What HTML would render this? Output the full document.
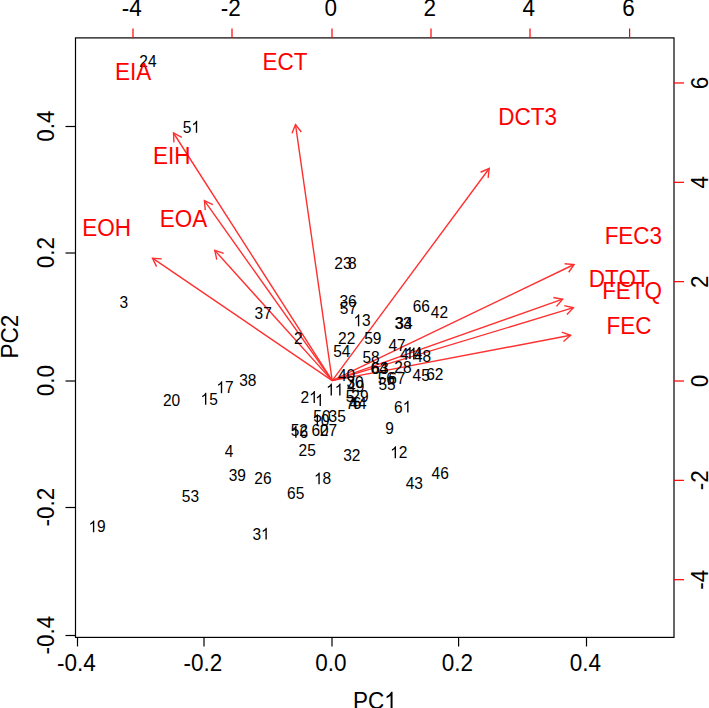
<!DOCTYPE html>
<html><head><meta charset="utf-8"><style>
html,body{margin:0;padding:0;background:#fff;overflow:hidden}
svg{display:block;font-family:"Liberation Sans",sans-serif}
</style></head><body>
<svg width="709" height="708" viewBox="0 0 709 708">
<rect x="75.5" y="37.9" width="598.5" height="599.5" fill="none" stroke="#000" stroke-width="1.2"/>
<g stroke="#000" stroke-width="1.2"><line x1="77.5" y1="637.4" x2="77.5" y2="646.4"/><line x1="204.0" y1="637.4" x2="204.0" y2="646.4"/><line x1="332.0" y1="637.4" x2="332.0" y2="646.4"/><line x1="458.6" y1="637.4" x2="458.6" y2="646.4"/><line x1="586.5" y1="637.4" x2="586.5" y2="646.4"/><line x1="75.5" y1="126.5" x2="65.5" y2="126.5"/><line x1="75.5" y1="253.0" x2="65.5" y2="253.0"/><line x1="75.5" y1="381.0" x2="65.5" y2="381.0"/><line x1="75.5" y1="507.5" x2="65.5" y2="507.5"/><line x1="75.5" y1="635.5" x2="65.5" y2="635.5"/></g>
<g stroke="#f00" stroke-width="1.2"><line x1="133.00" y1="37.9" x2="133.00" y2="28.4"/><line x1="232.00" y1="37.9" x2="232.00" y2="28.4"/><line x1="332.00" y1="37.9" x2="332.00" y2="28.4"/><line x1="431.00" y1="37.9" x2="431.00" y2="28.4"/><line x1="530.00" y1="37.9" x2="530.00" y2="28.4"/><line x1="629.60" y1="37.9" x2="629.60" y2="28.4"/><line x1="674.0" y1="579.68" x2="684" y2="579.68"/><line x1="674.0" y1="480.34" x2="684" y2="480.34"/><line x1="674.0" y1="381.00" x2="684" y2="381.00"/><line x1="674.0" y1="281.66" x2="684" y2="281.66"/><line x1="674.0" y1="182.32" x2="684" y2="182.32"/><line x1="674.0" y1="82.98" x2="684" y2="82.98"/></g>
<g font-size="22.5" text-anchor="middle" fill="#000"><text transform="translate(76.30,670.8) scale(1,1.06)">-0.4</text><text transform="translate(202.80,670.8) scale(1,1.06)">-0.2</text><text transform="translate(330.80,670.8) scale(1,1.06)">0.0</text><text transform="translate(457.40,670.8) scale(1,1.06)">0.2</text><text transform="translate(585.30,670.8) scale(1,1.06)">0.4</text><text transform="translate(131.80,15.5) scale(1,1.06)">-4</text><text transform="translate(230.80,15.5) scale(1,1.06)">-2</text><text transform="translate(330.80,15.5) scale(1,1.06)">0</text><text transform="translate(429.80,15.5) scale(1,1.06)">2</text><text transform="translate(528.80,15.5) scale(1,1.06)">4</text><text transform="translate(628.40,15.5) scale(1,1.06)">6</text><text transform="translate(53.6,126.0) rotate(-90) scale(1,1.06)">0.4</text><text transform="translate(53.6,252.5) rotate(-90) scale(1,1.06)">0.2</text><text transform="translate(53.6,380.5) rotate(-90) scale(1,1.06)">0.0</text><text transform="translate(53.6,507.0) rotate(-90) scale(1,1.06)">-0.2</text><text transform="translate(53.6,635.0) rotate(-90) scale(1,1.06)">-0.4</text><text transform="translate(708.3,579.68) rotate(-90) scale(1,1.06)">-4</text><text transform="translate(708.3,480.34) rotate(-90) scale(1,1.06)">-2</text><text transform="translate(708.3,381.00) rotate(-90) scale(1,1.06)">0</text><text transform="translate(708.3,281.66) rotate(-90) scale(1,1.06)">2</text><text transform="translate(708.3,182.32) rotate(-90) scale(1,1.06)">4</text><text transform="translate(708.3,82.98) rotate(-90) scale(1,1.06)">6</text><text transform="translate(374.8,709.0) scale(1,1.06)">PC </text><text transform="translate(18.2,336.6) rotate(-90) scale(1,1.06)">PC2</text></g><path transform="translate(384.17,709.00) scale(0.01099,-0.01165)" d="M763 0L583 0L583 1147C540 1106 483 1064 413 1023C343 982 280 951 223 930L223 1104C323 1151 411 1208 486 1276C561 1344 614 1409 645 1472L763 1472Z" fill="#000"/>
<g stroke="#ff3030" stroke-width="1.4" fill="none"><line x1="332.2" y1="380.6" x2="173.50" y2="133.00"/><polyline points="173.94,142.39 173.50,133.00 181.85,137.32"/><line x1="332.2" y1="380.6" x2="295.50" y2="124.60"/><polyline points="292.00,133.33 295.50,124.60 301.31,131.99"/><line x1="332.2" y1="380.6" x2="489.20" y2="168.50"/><polyline points="480.58,172.25 489.20,168.50 488.13,177.84"/><line x1="332.2" y1="380.6" x2="204.40" y2="200.70"/><polyline points="205.28,210.06 204.40,200.70 212.95,204.61"/><line x1="332.2" y1="380.6" x2="214.80" y2="250.40"/><polyline points="216.76,259.59 214.80,250.40 223.74,253.30"/><line x1="332.2" y1="380.6" x2="152.50" y2="258.20"/><polyline points="156.58,266.67 152.50,258.20 161.87,258.90"/><line x1="332.2" y1="380.6" x2="574.00" y2="264.50"/><polyline points="564.63,263.79 574.00,264.50 568.70,272.26"/><line x1="332.2" y1="380.6" x2="562.60" y2="299.20"/><polyline points="553.36,297.48 562.60,299.20 556.49,306.34"/><line x1="332.2" y1="380.6" x2="573.40" y2="307.70"/><polyline points="564.25,305.56 573.40,307.70 566.97,314.55"/><line x1="332.2" y1="380.6" x2="570.60" y2="335.30"/><polyline points="561.73,332.20 570.60,335.30 563.48,341.44"/></g>
<g text-anchor="middle"><text transform="translate(147.94,67.49) scale(1,1.07)" fill="#000" font-size="15.5">24</text><text transform="translate(191.41,132.76) scale(1,1.07)" fill="#000" font-size="15.5">5 </text><path transform="translate(191.41,132.76) scale(0.00757,-0.00810)" d="M763 0L583 0L583 1147C540 1106 483 1064 413 1023C343 982 280 951 223 930L223 1104C323 1151 411 1208 486 1276C561 1344 614 1409 645 1472L763 1472Z" fill="#000"/><text transform="translate(123.85,308.01) scale(1,1.07)" fill="#000" font-size="15.5">3</text><text transform="translate(97.12,532.36) scale(1,1.07)" fill="#000" font-size="15.5"> 9</text><path transform="translate(88.50,532.36) scale(0.00757,-0.00810)" d="M763 0L583 0L583 1147C540 1106 483 1064 413 1023C343 982 280 951 223 930L223 1104C323 1151 411 1208 486 1276C561 1344 614 1409 645 1472L763 1472Z" fill="#000"/><text transform="translate(171.61,405.91) scale(1,1.07)" fill="#000" font-size="15.5">20</text><text transform="translate(209.18,404.76) scale(1,1.07)" fill="#000" font-size="15.5"> 5</text><path transform="translate(200.56,404.76) scale(0.00757,-0.00810)" d="M763 0L583 0L583 1147C540 1106 483 1064 413 1023C343 982 280 951 223 930L223 1104C323 1151 411 1208 486 1276C561 1344 614 1409 645 1472L763 1472Z" fill="#000"/><text transform="translate(225.05,393.24) scale(1,1.07)" fill="#000" font-size="15.5"> 7</text><path transform="translate(216.42,393.24) scale(0.00757,-0.00810)" d="M763 0L583 0L583 1147C540 1106 483 1064 413 1023C343 982 280 951 223 930L223 1104C323 1151 411 1208 486 1276C561 1344 614 1409 645 1472L763 1472Z" fill="#000"/><text transform="translate(247.84,385.81) scale(1,1.07)" fill="#000" font-size="15.5">38</text><text transform="translate(229.15,456.81) scale(1,1.07)" fill="#000" font-size="15.5">4</text><text transform="translate(237.37,480.51) scale(1,1.07)" fill="#000" font-size="15.5">39</text><text transform="translate(262.95,484.21) scale(1,1.07)" fill="#000" font-size="15.5">26</text><text transform="translate(190.43,501.71) scale(1,1.07)" fill="#000" font-size="15.5">53</text><text transform="translate(307.14,455.91) scale(1,1.07)" fill="#000" font-size="15.5">25</text><text transform="translate(322.59,484.36) scale(1,1.07)" fill="#000" font-size="15.5"> 8</text><path transform="translate(313.97,484.36) scale(0.00757,-0.00810)" d="M763 0L583 0L583 1147C540 1106 483 1064 413 1023C343 982 280 951 223 930L223 1104C323 1151 411 1208 486 1276C561 1344 614 1409 645 1472L763 1472Z" fill="#000"/><text transform="translate(295.63,499.01) scale(1,1.07)" fill="#000" font-size="15.5">65</text><text transform="translate(261.02,539.56) scale(1,1.07)" fill="#000" font-size="15.5">3 </text><path transform="translate(261.02,539.56) scale(0.00757,-0.00810)" d="M763 0L583 0L583 1147C540 1106 483 1064 413 1023C343 982 280 951 223 930L223 1104C323 1151 411 1208 486 1276C561 1344 614 1409 645 1472L763 1472Z" fill="#000"/><text transform="translate(402.73,412.56) scale(1,1.07)" fill="#000" font-size="15.5">6 </text><path transform="translate(402.73,412.56) scale(0.00757,-0.00810)" d="M763 0L583 0L583 1147C540 1106 483 1064 413 1023C343 982 280 951 223 930L223 1104C323 1151 411 1208 486 1276C561 1344 614 1409 645 1472L763 1472Z" fill="#000"/><text transform="translate(389.60,434.41) scale(1,1.07)" fill="#000" font-size="15.5">9</text><text transform="translate(398.85,458.24) scale(1,1.07)" fill="#000" font-size="15.5"> 2</text><path transform="translate(390.22,458.24) scale(0.00757,-0.00810)" d="M763 0L583 0L583 1147C540 1106 483 1064 413 1023C343 982 280 951 223 930L223 1104C323 1151 411 1208 486 1276C561 1344 614 1409 645 1472L763 1472Z" fill="#000"/><text transform="translate(351.79,460.51) scale(1,1.07)" fill="#000" font-size="15.5">32</text><text transform="translate(440.16,478.91) scale(1,1.07)" fill="#000" font-size="15.5">46</text><text transform="translate(414.36,489.41) scale(1,1.07)" fill="#000" font-size="15.5">43</text><text transform="translate(263.19,319.21) scale(1,1.07)" fill="#000" font-size="15.5">37</text><text transform="translate(298.20,344.19) scale(1,1.07)" fill="#000" font-size="15.5">2</text><text transform="translate(342.95,269.01) scale(1,1.07)" fill="#000" font-size="15.5">23</text><text transform="translate(352.30,269.01) scale(1,1.07)" fill="#000" font-size="15.5">8</text><text transform="translate(348.05,307.41) scale(1,1.07)" fill="#000" font-size="15.5">36</text><text transform="translate(348.48,313.82) scale(1,1.07)" fill="#000" font-size="15.5">57</text><text transform="translate(362.10,326.16) scale(1,1.07)" fill="#000" font-size="15.5"> 3</text><path transform="translate(353.48,326.16) scale(0.00757,-0.00810)" d="M763 0L583 0L583 1147C540 1106 483 1064 413 1023C343 982 280 951 223 930L223 1104C323 1151 411 1208 486 1276C561 1344 614 1409 645 1472L763 1472Z" fill="#000"/><text transform="translate(346.70,343.99) scale(1,1.07)" fill="#000" font-size="15.5">22</text><text transform="translate(372.86,344.11) scale(1,1.07)" fill="#000" font-size="15.5">59</text><text transform="translate(341.82,356.72) scale(1,1.07)" fill="#000" font-size="15.5">54</text><text transform="translate(371.03,362.51) scale(1,1.07)" fill="#000" font-size="15.5">58</text><text transform="translate(421.35,311.61) scale(1,1.07)" fill="#000" font-size="15.5">66</text><text transform="translate(439.41,318.39) scale(1,1.07)" fill="#000" font-size="15.5">42</text><text transform="translate(403.93,328.71) scale(1,1.07)" fill="#000" font-size="15.5">34</text><text transform="translate(403.05,328.71) scale(1,1.07)" fill="#000" font-size="15.5">33</text><text transform="translate(397.01,350.71) scale(1,1.07)" fill="#000" font-size="15.5">47</text><text transform="translate(408.74,359.54) scale(1,1.07)" fill="#000" font-size="15.5">4 </text><path transform="translate(408.74,359.54) scale(0.00757,-0.00810)" d="M763 0L583 0L583 1147C540 1106 483 1064 413 1023C343 982 280 951 223 930L223 1104C323 1151 411 1208 486 1276C561 1344 614 1409 645 1472L763 1472Z" fill="#000"/><text transform="translate(413.48,358.94) scale(1,1.07)" fill="#000" font-size="15.5"> 4</text><path transform="translate(404.86,358.94) scale(0.00757,-0.00810)" d="M763 0L583 0L583 1147C540 1106 483 1064 413 1023C343 982 280 951 223 930L223 1104C323 1151 411 1208 486 1276C561 1344 614 1409 645 1472L763 1472Z" fill="#000"/><text transform="translate(422.56,362.41) scale(1,1.07)" fill="#000" font-size="15.5">48</text><text transform="translate(402.95,372.51) scale(1,1.07)" fill="#000" font-size="15.5">28</text><text transform="translate(421.15,381.32) scale(1,1.07)" fill="#000" font-size="15.5">45</text><text transform="translate(434.80,379.71) scale(1,1.07)" fill="#000" font-size="15.5">62</text><text transform="translate(379.13,373.71) scale(1,1.07)" fill="#000" font-size="15.5">64</text><text transform="translate(379.95,373.71) scale(1,1.07)" fill="#000" font-size="15.5">63</text><text transform="translate(386.33,383.91) scale(1,1.07)" fill="#000" font-size="15.5">56</text><text transform="translate(396.80,383.91) scale(1,1.07)" fill="#000" font-size="15.5">67</text><text transform="translate(387.02,389.92) scale(1,1.07)" fill="#000" font-size="15.5">55</text><text transform="translate(334.77,395.54) scale(1,1.07)" fill="#000" font-size="15.5">  </text><path transform="translate(326.15,395.54) scale(0.00757,-0.00810)" d="M763 0L583 0L583 1147C540 1106 483 1064 413 1023C343 982 280 951 223 930L223 1104C323 1151 411 1208 486 1276C561 1344 614 1409 645 1472L763 1472Z" fill="#000"/><path transform="translate(334.77,395.54) scale(0.00757,-0.00810)" d="M763 0L583 0L583 1147C540 1106 483 1064 413 1023C343 982 280 951 223 930L223 1104C323 1151 411 1208 486 1276C561 1344 614 1409 645 1472L763 1472Z" fill="#000"/><text transform="translate(309.13,403.04) scale(1,1.07)" fill="#000" font-size="15.5">2 </text><path transform="translate(309.13,403.04) scale(0.00757,-0.00810)" d="M763 0L583 0L583 1147C540 1106 483 1064 413 1023C343 982 280 951 223 930L223 1104C323 1151 411 1208 486 1276C561 1344 614 1409 645 1472L763 1472Z" fill="#000"/><text transform="translate(319.47,406.04) scale(1,1.07)" fill="#000" font-size="15.5"> </text><path transform="translate(315.16,406.04) scale(0.00757,-0.00810)" d="M763 0L583 0L583 1147C540 1106 483 1064 413 1023C343 982 280 951 223 930L223 1104C323 1151 411 1208 486 1276C561 1344 614 1409 645 1472L763 1472Z" fill="#000"/><text transform="translate(346.52,381.01) scale(1,1.07)" fill="#000" font-size="15.5">40</text><text transform="translate(355.01,387.51) scale(1,1.07)" fill="#000" font-size="15.5">30</text><text transform="translate(355.69,391.81) scale(1,1.07)" fill="#000" font-size="15.5">49</text><text transform="translate(350.02,401.92) scale(1,1.07)" fill="#000" font-size="15.5">5</text><text transform="translate(359.98,402.01) scale(1,1.07)" fill="#000" font-size="15.5">29</text><text transform="translate(349.99,408.51) scale(1,1.07)" fill="#000" font-size="15.5">7</text><text transform="translate(356.95,408.51) scale(1,1.07)" fill="#000" font-size="15.5">6</text><text transform="translate(358.05,408.51) scale(1,1.07)" fill="#000" font-size="15.5">44</text><text transform="translate(321.89,421.51) scale(1,1.07)" fill="#000" font-size="15.5">50</text><text transform="translate(337.13,421.51) scale(1,1.07)" fill="#000" font-size="15.5">35</text><text transform="translate(320.86,426.06) scale(1,1.07)" fill="#000" font-size="15.5"> 0</text><path transform="translate(312.24,426.06) scale(0.00757,-0.00810)" d="M763 0L583 0L583 1147C540 1106 483 1064 413 1023C343 982 280 951 223 930L223 1104C323 1151 411 1208 486 1276C561 1344 614 1409 645 1472L763 1472Z" fill="#000"/><text transform="translate(299.28,436.01) scale(1,1.07)" fill="#000" font-size="15.5">52</text><text transform="translate(299.40,437.76) scale(1,1.07)" fill="#000" font-size="15.5"> 6</text><path transform="translate(290.78,437.76) scale(0.00757,-0.00810)" d="M763 0L583 0L583 1147C540 1106 483 1064 413 1023C343 982 280 951 223 930L223 1104C323 1151 411 1208 486 1276C561 1344 614 1409 645 1472L763 1472Z" fill="#000"/><text transform="translate(320.11,436.21) scale(1,1.07)" fill="#000" font-size="15.5">60</text><text transform="translate(328.40,436.29) scale(1,1.07)" fill="#000" font-size="15.5">27</text></g>
<g text-anchor="middle"><text transform="translate(133.20,80.19) scale(1,1.045)" fill="#f00" font-size="22.5">EIA</text><text transform="translate(284.94,69.99) scale(1,1.045)" fill="#f00" font-size="22.5">ECT</text><text transform="translate(527.57,124.69) scale(1,1.045)" fill="#f00" font-size="22.5">DCT3</text><text transform="translate(171.79,164.09) scale(1,1.045)" fill="#f00" font-size="22.5">EIH</text><text transform="translate(183.60,227.29) scale(1,1.045)" fill="#f00" font-size="22.5">EOA</text><text transform="translate(106.69,235.89) scale(1,1.045)" fill="#f00" font-size="22.5">EOH</text><text transform="translate(633.37,243.99) scale(1,1.045)" fill="#f00" font-size="22.5">FEC3</text><text transform="translate(619.24,286.99) scale(1,1.045)" fill="#f00" font-size="22.5">DTOT</text><text transform="translate(632.12,298.79) scale(1,1.045)" fill="#f00" font-size="22.5">FETQ</text><text transform="translate(628.91,333.69) scale(1,1.045)" fill="#f00" font-size="22.5">FEC</text></g>
</svg></body></html>
